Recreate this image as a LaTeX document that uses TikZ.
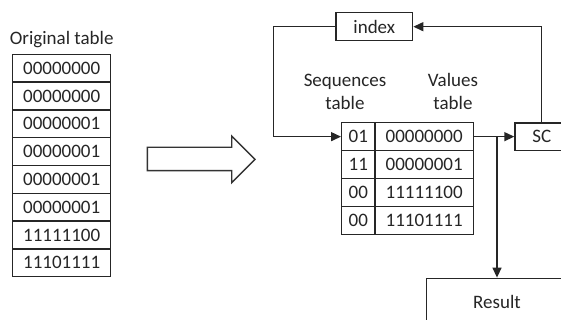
\documentclass[tikz,border=0pt]{standalone}
\usepackage{fontspec}
\setmainfont{Carlito}
\usetikzlibrary{arrows.meta}
\begin{document}
\begin{tikzpicture}[x=1pt,y=-1pt,
  every node/.style={font=\fontsize{19}{23}\selectfont, text=black!85, inner sep=0pt},
  cell/.style={draw=black!85, line width=1.4pt, minimum height=27.9pt, anchor=center},
  otab/.style={draw=black!85, line width=1.4pt, minimum width=98pt, minimum height=27.8pt},
  box/.style={draw=black!85, line width=1.4pt},
  conn/.style={draw=black!85, line width=1.4pt, -{Triangle[length=10pt,width=9pt]}}]
\useasboundingbox (0,0) rectangle (561,320);
\clip (0,0) rectangle (561,320);
\fill[white] (0,0) rectangle (561,320);
% original table
\node (ot) at (61.7,40) {Original table};
\foreach \v [count=\i] in {00000000,00000000,00000001,00000001,00000001,00000001,11111100,11101111}{
  \node[otab] (o\i) at (61.7,{54.3+13.9+27.8*(\i-1)}) {\v};
}
% big hollow arrow
\draw[black!80, line width=1.4pt] (147.3,147.3) -- (231.7,147.3) -- (231.7,136) -- (255,159.3) -- (231.7,182.7) -- (231.7,170.7) -- (147.3,170.7) -- cycle;
% index
\node[box, minimum width=76.7pt, minimum height=28pt] (index) at (374.3,26.7) {index};
% headers
\node[align=center] (sh) at (345,91.5) {Sequences\\table};
\node[align=center] (vh) at (453,91.5) {Values\\table};
% compressed table
\foreach \s/\v [count=\i] in {01/00000000,11/00000001,00/11111100,00/11101111}{
  \node[cell, minimum width=33.3pt] (s\i) at (358.35,{122.7+13.95+27.9*(\i-1)}) {\s};
  \node[cell, minimum width=98.3pt] (v\i) at (424.15,{122.7+13.95+27.9*(\i-1)}) {\v};
}
% SC
\node[box, minimum width=53.4pt, minimum height=27.3pt] (sc) at (541.7,136.65) {SC};
% Result
\node[box, minimum width=140.6pt, minimum height=47.4pt] (result) at (497,302) {Result};
% connectors
\coordinate (lp) at (273.3,26.7);
\draw[conn] (index.west) -- (lp) |- (s1.west);
\draw[conn] (v1.east) -- (sc.west);
\draw[conn] (sc.north) |- (index.east);
\coordinate (j) at (result.north |- v1.east);
\draw[conn] (j) -- (result.north);
\end{tikzpicture}
\end{document}
